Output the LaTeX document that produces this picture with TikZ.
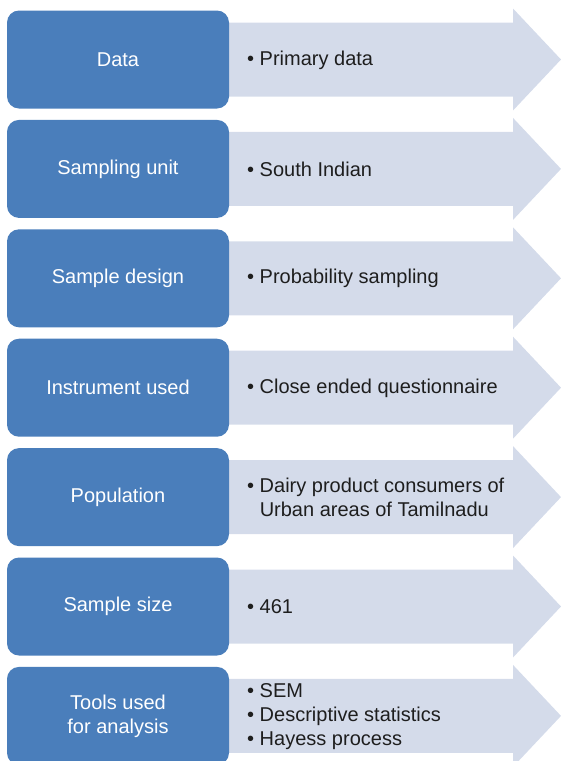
\documentclass[tikz,border=0pt]{standalone}
\usepackage{fontspec}
\setmainfont{Liberation Sans}
\definecolor{boxblue}{RGB}{74,126,187}
\definecolor{arrowfill}{RGB}{212,219,234}
\definecolor{textdark}{RGB}{30,30,30}
\newcommand{\bul}{\textbullet\ }
\newcommand{\hang}{\hphantom{\textbullet\ }}
\begin{document}
\begin{tikzpicture}[x=1pt,y=-1pt,
  labelbox/.style={fill=boxblue,rounded corners=12pt,minimum width=222pt,
    minimum height=98pt,inner sep=0pt,text=white,align=center,
    font=\fontsize{20}{24}\selectfont},
  itemtext/.style={anchor=west,inner sep=0pt,text=textdark,align=left,
    font=\fontsize{20}{24}\selectfont},
  chevron/.style={fill=arrowfill}]
\clip (0,0) rectangle (561,761);
\useasboundingbox (0,0) rectangle (561,761);
\foreach \k/\lab/\txt in {
  0/{Data}/{\bul Primary data},
  1/{Sampling unit}/{\bul South Indian},
  2/{Sample design}/{\bul Probability sampling},
  3/{Instrument used}/{\bul Close ended questionnaire},
  4/{Population}/{\bul Dairy product consumers of\\\hang Urban areas of Tamilnadu},
  5/{Sample size}/{\bul 461},
  6/{Tools used\\for analysis}/{\bul SEM\\\bul Descriptive statistics\\\bul Hayess process}}{
  \pgfmathsetmacro\c{59.5+109.4*\k}
  % light arrow behind the label box
  \fill[chevron] (225,{\c-37}) -- (513,{\c-37}) -- (513,{\c-51})
    -- (561,\c) -- (513,{\c+51}) -- (513,{\c+37}) -- (225,{\c+37}) -- cycle;
  \node[labelbox] (box\k) at (118,\c) {\lab};
  \node[itemtext] (item\k) at (247,{\c+0.5}) {\txt};
}
\end{tikzpicture}
\end{document}
